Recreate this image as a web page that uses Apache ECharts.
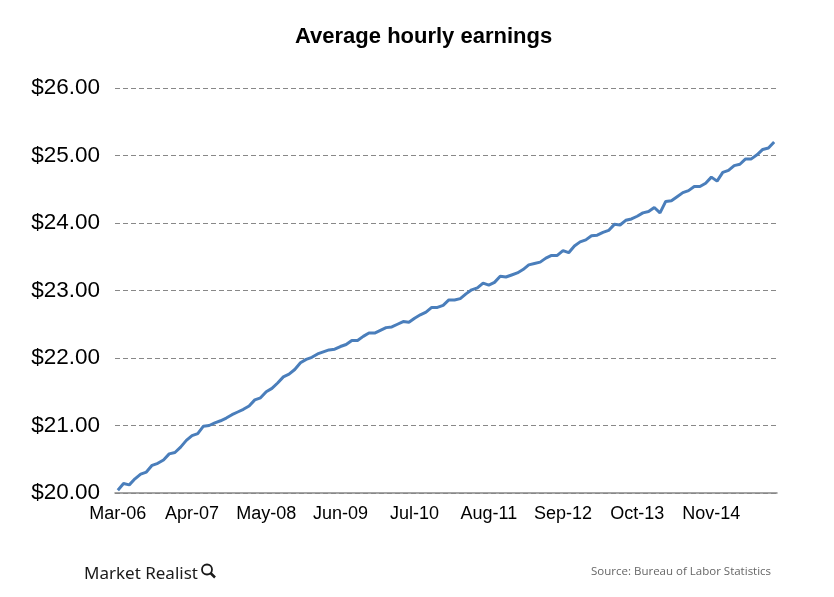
<!DOCTYPE html>
<html>
<head>
<meta charset="utf-8">
<script src="https://cdn.jsdelivr.net/npm/echarts@6/dist/echarts.min.js"></script>
<style>html,body{margin:0;padding:0;background:#fff}#c{width:834px;height:597px}</style>
</head>
<body>
<div id="c"></div>
<script>
// Average hourly earnings, monthly, Mar 2006 - Oct 2015
const startYear = 2006, startMonth = 2; // March (0-based)
const v2006 = [20.04, 20.14, 20.12, 20.21, 20.28, 20.31, 20.41, 20.44, 20.49, 20.58];
const v2007 = [20.60, 20.68, 20.78, 20.85, 20.88, 20.99, 21.00, 21.04, 21.07, 21.11, 21.16, 21.20];
const v2008 = [21.24, 21.29, 21.38, 21.41, 21.50, 21.55, 21.63, 21.72, 21.76, 21.83, 21.93, 21.98];
const v2009 = [22.01, 22.06, 22.09, 22.12, 22.13, 22.17, 22.20, 22.26, 22.26, 22.32, 22.37, 22.37];
const v2010 = [22.41, 22.45, 22.46, 22.50, 22.54, 22.53, 22.59, 22.64, 22.68, 22.75, 22.75, 22.78];
const v2011 = [22.86, 22.86, 22.88, 22.95, 23.01, 23.04, 23.11, 23.08, 23.12, 23.21, 23.20, 23.23];
const v2012 = [23.26, 23.31, 23.38, 23.40, 23.42, 23.48, 23.52, 23.52, 23.59, 23.56, 23.66, 23.72];
const v2013 = [23.75, 23.81, 23.82, 23.86, 23.89, 23.98, 23.97, 24.04, 24.06, 24.10, 24.15, 24.17];
const v2014 = [24.23, 24.15, 24.32, 24.33, 24.39, 24.45, 24.48, 24.54, 24.54, 24.59, 24.68, 24.62];
const v2015 = [24.75, 24.78, 24.85, 24.87, 24.95, 24.95, 25.01, 25.09, 25.11, 25.20];
const values = [].concat(v2006, v2007, v2008, v2009, v2010, v2011, v2012, v2013, v2014, v2015);
const monthNames = ['Jan','Feb','Mar','Apr','May','Jun','Jul','Aug','Sep','Oct','Nov','Dec'];
const categories = values.map((_, i) => {
  const m = startMonth + i;
  const y = startYear + Math.floor(m / 12);
  return monthNames[m % 12] + '-' + String(y % 100).padStart(2, '0');
});
const yMin = 20, yMax = 26, yStep = 1;
const titleText = 'Average hourly earnings';
const sourceText = 'Source: Bureau of Labor Statistics';
const brandText = 'Market Realist';

const chart = echarts.init(document.getElementById('c'));
chart.setOption({
  animation: false,
  backgroundColor: '#fff',
  title: {
    text: titleText, left: 290, top: 21,
    textStyle: {fontFamily: 'Liberation Sans', fontSize: 22, fontWeight: 'bold', color: '#000'}
  },
  grid: {left: 115, right: 57, top: 88, bottom: 104, containLabel: false},
  xAxis: {
    type: 'category', data: categories, boundaryGap: true,
    axisLine: {lineStyle: {color: '#868686', width: 1.5}},
    axisTick: {show: false},
    axisLabel: {interval: 12, color: '#000', fontFamily: 'Liberation Sans', fontSize: 18, margin: 12}
  },
  yAxis: {
    type: 'value', min: yMin, max: yMax, interval: yStep,
    axisLine: {show: false}, axisTick: {show: false},
    axisLabel: {color: '#000', fontFamily: 'Liberation Sans', fontSize: 22.5, margin: 15,
      formatter: v => '$' + v.toFixed(2)},
    splitLine: {lineStyle: {color: '#888', type: [5, 3], width: 1}}
  },
  series: [{
    type: 'line', data: values, symbol: 'none',
    lineStyle: {color: '#4a7ebb', width: 3}
  }],
  graphic: [
    {type: 'text', left: 84, top: 566, style: {text: brandText, fontFamily: 'Noto Sans', fontSize: 17, fill: '#1a1a1a'}},
    {type: 'circle', shape: {cx: 207, cy: 569.5, r: 5}, style: {fill: 'none', stroke: '#1a1a1a', lineWidth: 1.8}},
    {type: 'line', shape: {x1: 210.5, y1: 573, x2: 215, y2: 577.5}, style: {stroke: '#1a1a1a', lineWidth: 2.5}},
    {type: 'text', left: 591, top: 566, style: {text: sourceText, fontFamily: 'Open Sans', fontSize: 11.5, fill: '#666'}}
  ]
});
</script>
</body>
</html>
